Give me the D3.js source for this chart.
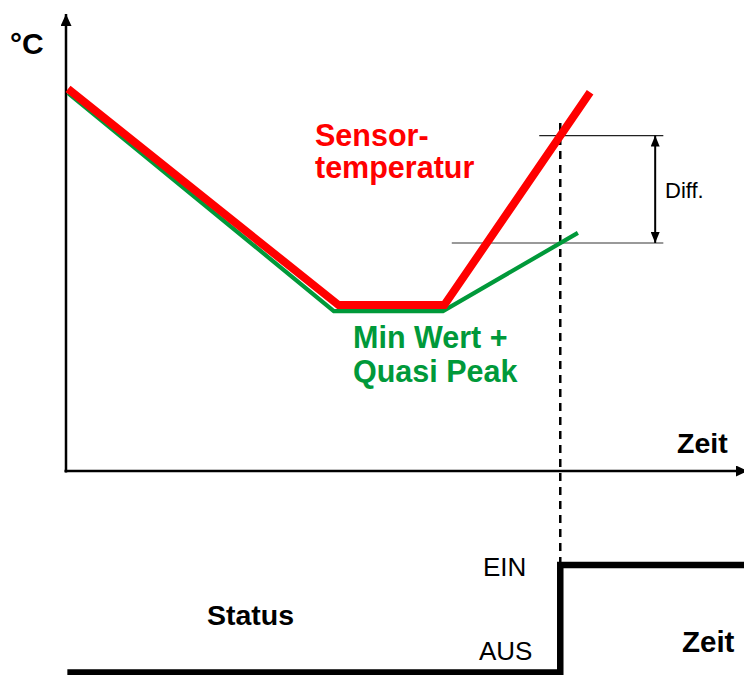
<!DOCTYPE html>
<html>
<head>
<meta charset="utf-8">
<script src="https://cdn.jsdelivr.net/npm/d3@7"></script>
<style>
  html, body { margin: 0; padding: 0; background: #ffffff; }
  svg { display: block; }
  text { font-family: "Liberation Sans", Arial, Helvetica, sans-serif; }
</style>
</head>
<body>
<svg id="chart" width="744" height="675"></svg>
<script>
// Time axis (arbitrary units 0..100) and temperature axis (arbitrary units 0..100)
const sensorTime   = [0.3, 40.2, 55.8, 77.3];
const sensorTemp   = [83.6, 36.3, 36.3, 82.9];
const minPeakTime  = [0.3, 39.5, 55.6, 75.5];
const minPeakTemp  = [82.7, 35.0, 35.0, 52.1];

// Moment the switch turns on, and the two levels whose gap is the "Diff."
const switchTime   = 72.9;
const diffUpper    = 73.4;
const diffLower    = 49.9;
const diffUpperSpan = [69.8, 88.1];
const diffLowerSpan = [56.9, 88.1];
const diffArrowTime = 86.9;

// Status signal: 0 = AUS, 1 = EIN
const statusTime   = [0.2, switchTime, 100];
const statusValue  = [0, 1, 1];
const statusLabels = ["AUS", "EIN"];

const RED = "#ff0000";
const GREEN = "#00993a";

const svg = d3.select("#chart");

const x = d3.scaleLinear().domain([0, 100]).range([66, 744]);
const y = d3.scaleLinear().domain([0, 100]).range([471, 14]);
const yStatus = d3.scaleLinear().domain([0, 1]).range([672.5, 565]);

// arrow markers
const defs = svg.append("defs");
function marker(id, w, l) {
  defs.append("marker")
    .attr("id", id)
    .attr("viewBox", `0 ${-w/2} ${l} ${w}`)
    .attr("refX", l).attr("refY", 0)
    .attr("markerWidth", l).attr("markerHeight", w)
    .attr("markerUnits", "userSpaceOnUse")
    .attr("orient", "auto-start-reverse")
    .append("path")
    .attr("d", `M0,${-w/2} L${l},0 L0,${w/2} Z`)
    .attr("fill", "#000");
}
marker("axisArrow", 11, 12);
marker("diffArrow", 9, 11);

// axes
svg.append("line")
  .attr("x1", x(0)).attr("y1", y(0) + 1.5)
  .attr("x2", x(0)).attr("y2", y(100))
  .attr("stroke", "#000").attr("stroke-width", 2.5)
  .attr("marker-end", "url(#axisArrow)");

svg.append("line")
  .attr("x1", x(0) - 1.5).attr("y1", y(0))
  .attr("x2", x(100) + 4).attr("y2", y(0))
  .attr("stroke", "#000").attr("stroke-width", 2.5)
  .attr("marker-end", "url(#axisArrow)");

// Diff reference lines
svg.append("line")
  .attr("x1", x(diffUpperSpan[0])).attr("x2", x(diffUpperSpan[1]))
  .attr("y1", y(diffUpper)).attr("y2", y(diffUpper))
  .attr("stroke", "#222").attr("stroke-width", 1.2);
svg.append("line")
  .attr("x1", x(diffLowerSpan[0])).attr("x2", x(diffLowerSpan[1]))
  .attr("y1", y(diffLower)).attr("y2", y(diffLower))
  .attr("stroke", "#777").attr("stroke-width", 1.5);

svg.append("line")
  .attr("x1", x(diffArrowTime)).attr("x2", x(diffArrowTime))
  .attr("y1", y(diffUpper)).attr("y2", y(diffLower))
  .attr("stroke", "#000").attr("stroke-width", 2)
  .attr("marker-start", "url(#diffArrow)")
  .attr("marker-end", "url(#diffArrow)");

svg.append("text")
  .attr("x", 665).attr("y", 198)
  .attr("font-size", 22).attr("fill", "#000")
  .text("Diff.");

// dashed switching line
svg.append("line")
  .attr("x1", x(switchTime)).attr("x2", x(switchTime))
  .attr("y1", 123).attr("y2", yStatus(1))
  .attr("stroke", "#000").attr("stroke-width", 2.5)
  .attr("stroke-dasharray", "8,6");

// temperature curves
const line = d3.line().x(d => x(d[0])).y(d => y(d[1]));
const greenPts = minPeakTime.map((t, i) => [t, minPeakTemp[i]]);
const redPts = sensorTime.map((t, i) => [t, sensorTemp[i]]);

svg.append("path")
  .attr("d", line(greenPts))
  .attr("fill", "none").attr("stroke", GREEN)
  .attr("stroke-width", 4.2).attr("stroke-linejoin", "miter");

svg.append("path")
  .attr("d", line(redPts))
  .attr("fill", "none").attr("stroke", RED)
  .attr("stroke-width", 8).attr("stroke-linejoin", "miter");

// labels
svg.append("text").attr("x", 10).attr("y", 54)
  .attr("font-size", 30).attr("font-weight", "bold").attr("fill", "#000")
  .text("°C");

const sensorLabel = svg.append("text")
  .attr("font-size", 30.5).attr("font-weight", "bold").attr("fill", RED);
sensorLabel.append("tspan").attr("x", 315).attr("y", 146).text("Sensor-");
sensorLabel.append("tspan").attr("x", 315).attr("y", 178).text("temperatur");

const peakLabel = svg.append("text")
  .attr("font-size", 30.5).attr("font-weight", "bold").attr("fill", GREEN);
peakLabel.append("tspan").attr("x", 353).attr("y", 348).text("Min Wert +");
peakLabel.append("tspan").attr("x", 353).attr("y", 382).text("Quasi Peak");

svg.append("text").attr("x", 677).attr("y", 453)
  .attr("font-size", 28.5).attr("font-weight", "bold").attr("fill", "#000")
  .text("Zeit");

// status panel
const stepLine = d3.line()
  .x(d => x(d[0])).y(d => yStatus(d[1]))
  .curve(d3.curveStepAfter);
const statusPts = statusTime.map((t, i) => [t, statusValue[i]]);

svg.append("path")
  .attr("d", stepLine(statusPts))
  .attr("fill", "none").attr("stroke", "#000")
  .attr("stroke-width", 6.5).attr("stroke-linejoin", "miter");

svg.append("text").attr("x", 483).attr("y", yStatus(1) + 11)
  .attr("font-size", 26).attr("fill", "#000")
  .text(statusLabels[1]);
svg.append("text").attr("x", 479).attr("y", yStatus(0) - 13)
  .attr("font-size", 26).attr("fill", "#000")
  .text(statusLabels[0]);

svg.append("text").attr("x", 207).attr("y", 625)
  .attr("font-size", 28.5).attr("font-weight", "bold").attr("fill", "#000")
  .text("Status");

svg.append("text").attr("x", 682).attr("y", 652)
  .attr("font-size", 29.5).attr("font-weight", "bold").attr("fill", "#000")
  .text("Zeit");
</script>
</body>
</html>
